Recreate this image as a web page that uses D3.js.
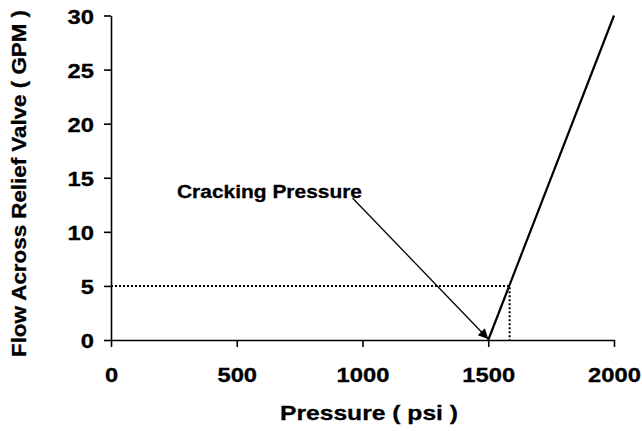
<!DOCTYPE html>
<html><head><meta charset="utf-8">
<script src="https://cdn.jsdelivr.net/npm/d3@7"></script>
<style>body{margin:0;background:#fff}svg{display:block}text{font-family:"Liberation Sans",Arial,sans-serif;font-weight:bold;fill:#000}</style>
</head><body>
<svg id="c" width="642" height="431"></svg>
<script>
const pressure = [1500, 2000];
const flow = [0, 30];
const xTicks = [0, 500, 1000, 1500, 2000];
const yTicks = [0, 5, 10, 15, 20, 25, 30];
const refFlow = 5;
const refPressure = 1585;
const annotText = "Cracking Pressure";
const annotTo = [1500, 0];

const svg = d3.select("#c");
const x = d3.scaleLinear().domain([0, 2000]).range([111, 614]);
const y = d3.scaleLinear().domain([0, 30]).range([340, 15.5]);
const digitW = 13.2;
const FF = '"Liberation Sans",Arial,sans-serif';

// axes
const xAxis = svg.append("g").attr("transform", `translate(0,${y(0)})`)
  .call(d3.axisBottom(x).tickValues(xTicks).tickFormat(d3.format("d")).tickSize(7).tickSizeOuter(0).tickPadding(35));
const yAxis = svg.append("g").attr("transform", `translate(${x(0)},0)`)
  .call(d3.axisLeft(y).tickValues(yTicks).tickFormat(d3.format("d")).tickSize(7).tickSizeOuter(0).tickPadding(10));
[xAxis, yAxis].forEach(g => {
  g.select(".domain").attr("stroke", "#000").attr("stroke-width", 1.6);
  g.selectAll(".tick line").attr("stroke", "#000").attr("stroke-width", 1.6);
  g.selectAll(".tick text").style("font-size", "19.5px").style("font-family", FF).style("font-weight", "bold").attr("fill", "#000")
    .attr("stroke", "#000").attr("stroke-width", 0.3)
    .attr("textLength", d => String(d).length * digitW).attr("lengthAdjust", "spacingAndGlyphs");
});
xAxis.selectAll(".tick text").attr("dy", "0.0em");
yAxis.selectAll(".tick text").attr("dy", "0.4em");

// dotted reference lines
svg.append("path")
  .attr("d", d3.line()([[x(0), y(refFlow)], [x(refPressure), y(refFlow)], [x(refPressure), y(0)]]))
  .attr("fill", "none").attr("stroke", "#000").attr("stroke-width", 2).attr("stroke-dasharray", "2,2");

// main line
svg.append("path")
  .datum(pressure.map((p, i) => [p, flow[i]]))
  .attr("d", d3.line().x(d => x(d[0])).y(d => y(d[1])))
  .attr("fill", "none").attr("stroke", "#000").attr("stroke-width", 2.2);

// arrow
svg.append("defs").append("marker").attr("id", "ah")
  .attr("viewBox", "0 0 10 10").attr("refX", 10).attr("refY", 5)
  .attr("markerWidth", 12).attr("markerHeight", 10).attr("markerUnits", "userSpaceOnUse")
  .attr("orient", "auto")
  .append("path").attr("d", "M0,0L10,5L0,10z").attr("fill", "#000");
const ax1 = 352.5, ay1 = 198;
svg.append("line")
  .attr("x1", ax1).attr("y1", ay1)
  .attr("x2", x(annotTo[0])).attr("y2", y(annotTo[1]) - 1)
  .attr("stroke", "#000").attr("stroke-width", 1.3).attr("marker-end", "url(#ah)");

svg.append("text").attr("x", 177).attr("y", 198).style("font-size", "18px")
  .attr("stroke", "#000").attr("stroke-width", 0.3)
  .attr("textLength", 185).attr("lengthAdjust", "spacingAndGlyphs").text(annotText);

// axis titles
svg.append("text").attr("x", 369).attr("y", 420).attr("text-anchor", "middle")
  .style("font-size", "20.5px").attr("stroke", "#000").attr("stroke-width", 0.3)
  .attr("textLength", 178).attr("lengthAdjust", "spacingAndGlyphs").text("Pressure ( psi )");
svg.append("text").attr("transform", `translate(26,${183.5}) rotate(-90)`).attr("text-anchor", "middle")
  .style("font-size", "20.5px").attr("stroke", "#000").attr("stroke-width", 0.3)
  .attr("textLength", 347).attr("lengthAdjust", "spacingAndGlyphs").text("Flow Across Relief Valve ( GPM )");
</script>
</body></html>
